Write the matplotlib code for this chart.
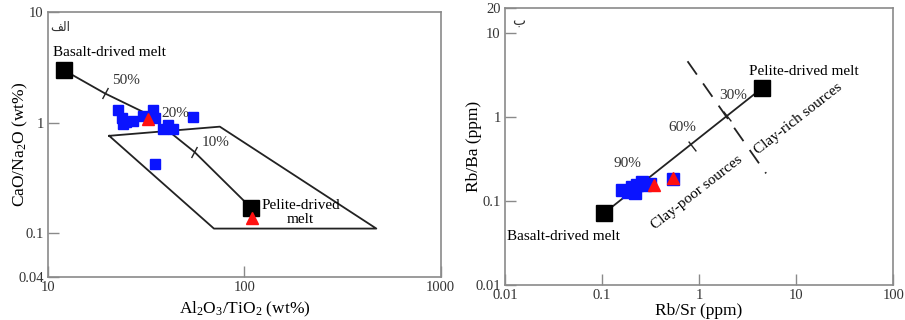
import matplotlib
matplotlib.use("Agg")
import matplotlib.pyplot as plt
import numpy as np

plt.rcParams["font.family"] = ["Liberation Serif", "DejaVu Sans"]
plt.rcParams["mathtext.fontset"] = "custom"
plt.rcParams["mathtext.rm"] = "Liberation Serif"
plt.rcParams["mathtext.default"] = "rm"

# ---- panel a: Al2O3/TiO2 vs CaO/Na2O ----
a_end_x = [12, 108]          # basalt, pelite end-members
a_end_y = [3.0, 0.17]
a_mix_x = [12, 19.5, 32, 55.6, 108]     # mixing curve
a_mix_y = [3.0, 1.84, 1.2, 0.545, 0.17]
a_tick_x = [19.5, 55.6]
a_tick_y = [1.84, 0.545]
a_box_x = [20.5, 75, 470, 70, 20.5]
a_box_y = [0.76, 0.92, 0.11, 0.11, 0.76]
a_blue_x = [22.8, 23.9, 24.1, 25, 27.2, 30.5, 34.3, 35.2, 38.6, 41, 43.4, 55, 35.2]
a_blue_y = [1.29, 1.11, 0.98, 1.02, 1.04, 1.16, 1.29, 1.11, 0.88, 0.96, 0.88, 1.13, 0.42]
a_red_x = [32.5, 110]
a_red_y = [1.08, 0.138]

# ---- panel b: Rb/Sr vs Rb/Ba ----
b_end_x = [0.105, 4.4]
b_end_y = [0.072, 2.2]
b_tick_x = [0.84, 1.95]
b_tick_y = [0.46, 1.02]
b_dash_x = [0.76, 4.9]
b_dash_y = [4.64, 0.214]
b_blue_x = [0.16, 0.187, 0.202, 0.228, 0.256, 0.277, 0.313, 0.219, 0.544]
b_blue_y = [0.135, 0.129, 0.148, 0.155, 0.170, 0.155, 0.162, 0.124, 0.186]
b_red_x = [0.344, 0.544]
b_red_y = [0.155, 0.191]

fig = plt.figure(figsize=(9.05, 3.2), dpi=100)
ax1 = fig.add_axes([0.053, 0.134, 0.434, 0.828])
ax2 = fig.add_axes([0.558, 0.109, 0.429, 0.866])

for ax in (ax1, ax2):
    ax.set_xscale("log")
    ax.set_yscale("log")
    ax.minorticks_off()
    for s in ax.spines.values():
        s.set_color("#8a8a8a")
        s.set_linewidth(1.2)
    ax.tick_params(direction="in", length=8, width=1, color="#8a8a8a",
                   labelsize=10.5, labelcolor="#333333", pad=3)

# panel a
ax1.set_xlim(10, 1000)
ax1.set_ylim(0.04, 10)
ax1.set_xticks([10, 100, 1000])
ax1.set_xticklabels(["10", "100", "1000"])
ax1.set_yticks([0.04, 0.1, 1, 10])
ax1.set_yticklabels(["0.04", "0.1", "1", "10"])
ax1.plot(a_box_x, a_box_y, color="#222222", lw=1.3)
ax1.plot(a_mix_x, a_mix_y, color="#222222", lw=1.3)
ax1.plot(a_tick_x, a_tick_y, ls="none", marker=(2, 0, -28), ms=9, mec="#222222", mew=1)
ax1.plot(a_blue_x, a_blue_y, ls="none", marker="s", ms=7.5, color="#0a14ff")
ax1.plot(a_end_x, a_end_y, ls="none", marker="s", ms=12, color="black")
ax1.plot(a_red_x, a_red_y, ls="none", marker="^", ms=8, color="#ff1010")
ax1.text(11.5, 7.3, "\ufed2\ufedf\ufe8d", fontsize=9, ha="center", va="center",
         family="DejaVu Sans", color="#333333")
ax1.text(10.6, 4.33, "Basalt-drived melt", fontsize=11, va="center")
ax1.text(25, 2.4, "50%", fontsize=11, va="center", ha="center", color="#333333")
ax1.text(44.5, 1.2, "20%", fontsize=11, va="center", ha="center", color="#333333")
ax1.text(71, 0.658, "10%", fontsize=11, va="center", ha="center", color="#333333")
ax1.text(193, 0.153, "Pelite-drived\nmelt", fontsize=11, va="center", ha="center",
         linespacing=1.05)
ax1.set_xlabel("Al$_2$O$_3$/TiO$_2$ (wt%)", fontsize=12.5)
ax1.set_ylabel("CaO/Na$_2$O (wt%)", fontsize=12.5)
ax1.xaxis.set_label_coords(0.5, -0.087)
ax1.yaxis.set_label_coords(-0.045, 0.5)

# panel b
ax2.set_xlim(0.01, 100)
ax2.set_ylim(0.01, 20)
ax2.set_xticks([0.01, 0.1, 1, 10, 100])
ax2.set_xticklabels(["0.01", "0.1", "1", "10", "100"])
ax2.set_yticks([0.01, 0.1, 1, 10, 20])
ax2.set_yticklabels(["0.01", "0.1", "1", "10", "20"])
ax2.plot(b_end_x, b_end_y, color="#222222", lw=1.3)
ax2.plot(b_dash_x, b_dash_y, color="#222222", lw=1.3, dashes=(9, 6))
ax2.plot(b_tick_x, b_tick_y, ls="none", marker=(2, 0, 38), ms=9, mec="#222222", mew=1)
ax2.plot(b_blue_x, b_blue_y, ls="none", marker="s", ms=8, color="#0a14ff")
ax2.plot(b_end_x, b_end_y, ls="none", marker="s", ms=12, color="black")
ax2.plot(b_red_x, b_red_y, ls="none", marker="^", ms=8, color="#ff1010")
ax2.text(0.0138, 14, "\u0628", fontsize=10, ha="center", va="center",
         family="DejaVu Sans", color="#333333")
ax2.text(3.3, 3.5, "Pelite-drived melt", fontsize=11, va="center")
ax2.text(0.0105, 0.038, "Basalt-drived melt", fontsize=11, va="center")
ax2.text(2.24, 1.83, "30%", fontsize=11, va="center", ha="center", color="#333333")
ax2.text(0.67, 0.76, "60%", fontsize=11, va="center", ha="center", color="#333333")
ax2.text(0.181, 0.283, "90%", fontsize=11, va="center", ha="center", color="#333333")
ax2.text(0.95, 0.125, "Clay-poor sources", fontsize=11, va="center", ha="center",
         rotation=38, rotation_mode="anchor")
ax2.text(10.5, 0.97, "Clay-rich sources", fontsize=11, va="center", ha="center",
         rotation=38, rotation_mode="anchor")
ax2.set_xlabel("Rb/Sr (ppm)", fontsize=12.5)
ax2.set_ylabel("Rb/Ba (ppm)", fontsize=12.5)
ax2.xaxis.set_label_coords(0.5, -0.065)
ax2.yaxis.set_label_coords(-0.058, 0.5)

fig.savefig("out.png", dpi=100)
